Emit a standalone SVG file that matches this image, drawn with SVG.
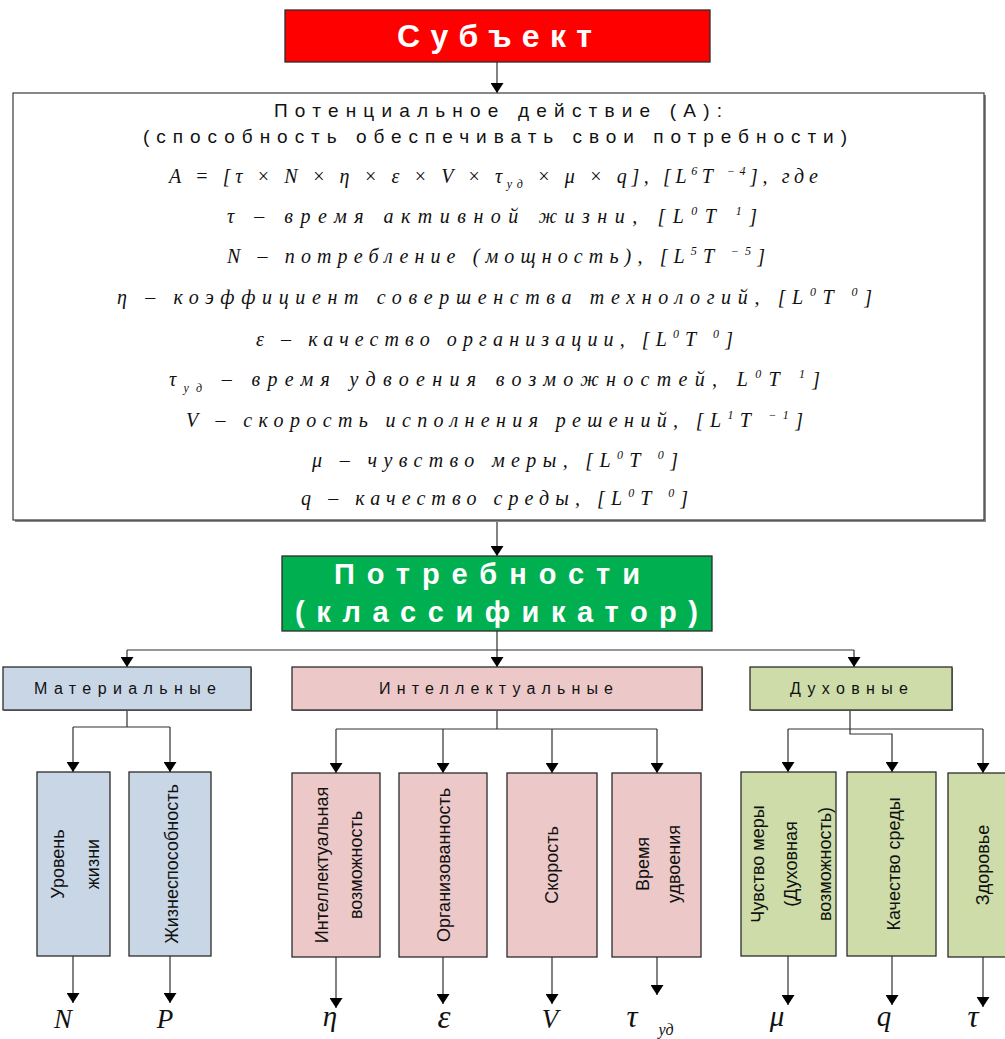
<svg xmlns="http://www.w3.org/2000/svg" width="1005" height="1039" viewBox="0 0 1005 1039">
  <style>
    .box { stroke: #2b2b2b; stroke-width: 1.3; }
    .shadow { fill: #8a8a8a; }
    .conn { fill: none; stroke: #303030; stroke-width: 1.2; }
    .hdr { font-family: "Liberation Sans", Arial, sans-serif; font-weight: bold; fill: #ffffff; }
    .sans { font-family: "Liberation Sans", Arial, sans-serif; fill: #111111; }
    .f { font-family: "Liberation Serif", "Times New Roman", serif; font-style: italic; font-size: 20px; fill: #111111; }
    .s { font-size: 12px; }
    .vt { font-family: "Liberation Sans", Arial, sans-serif; font-size: 18px; fill: #111111; text-anchor: middle; }
    .sym { font-family: "Liberation Serif", "Times New Roman", serif; font-style: italic; fill: #111111; text-anchor: middle; }
    .mat { fill: #c9d6e6; }
    .int { fill: #ecc9c8; }
    .duh { fill: #cddca8; }
  </style>
  <defs>
    <marker id="arr" viewBox="0 0 10 13" refX="10" refY="6.5" markerWidth="10" markerHeight="13" markerUnits="userSpaceOnUse" orient="auto">
      <path d="M0,0 L10,6.5 L0,13 z" fill="#000000"/>
    </marker>
  </defs>
  <rect width="1005" height="1039" fill="#ffffff"/>

  <!-- connectors -->
  <g id="connectors" class="conn">
    <path d="M497,62 V93" marker-end="url(#arr)"/>
    <path d="M497,522 V556" marker-end="url(#arr)"/>
    <path d="M497,631 V650 M127,650 H854"/>
    <path d="M127,650 V667" marker-end="url(#arr)"/>
    <path d="M497,650 V667" marker-end="url(#arr)"/>
    <path d="M854,650 V667" marker-end="url(#arr)"/>
    <!-- material branch -->
    <path d="M127,710 V727 M73,727 H170"/>
    <path d="M73,727 V772" marker-end="url(#arr)"/>
    <path d="M170,727 V772" marker-end="url(#arr)"/>
    <!-- intellectual branch -->
    <path d="M497,710 V729 M336,729 H657"/>
    <path d="M336,729 V773" marker-end="url(#arr)"/>
    <path d="M443,729 V773" marker-end="url(#arr)"/>
    <path d="M552,729 V773" marker-end="url(#arr)"/>
    <path d="M657,729 V773" marker-end="url(#arr)"/>
    <!-- spiritual branch -->
    <path d="M850,710 V734 H892 V772" marker-end="url(#arr)"/>
    <path d="M788,729 H983"/>
    <path d="M788,729 V772" marker-end="url(#arr)"/>
    <path d="M983,729 V773" marker-end="url(#arr)"/>
    <!-- outputs -->
    <path d="M73,956 V1003" marker-end="url(#arr)"/>
    <path d="M170,956 V1003" marker-end="url(#arr)"/>
    <path d="M336,957 V1008" marker-end="url(#arr)"/>
    <path d="M443,957 V1004" marker-end="url(#arr)"/>
    <path d="M552,957 V1004" marker-end="url(#arr)"/>
    <path d="M657,957 V995" marker-end="url(#arr)"/>
    <path d="M788,956 V1005" marker-end="url(#arr)"/>
    <path d="M892,956 V1005" marker-end="url(#arr)"/>
    <path d="M983,957 V1007" marker-end="url(#arr)"/>
  </g>

  <!-- subject -->
  <g id="subject">
    <rect x="285" y="10" width="425" height="52" fill="#ff0000" class="box"/>
    <text class="hdr" x="397" y="47" font-size="32" textLength="195" lengthAdjust="spacing">Субъект</text>
  </g>

  <!-- potential action -->
  <g id="potential">
    <rect x="15" y="95" width="971" height="427" class="shadow"/>
    <rect x="13" y="93" width="971" height="427" fill="#ffffff" stroke="#3a3a3a" stroke-width="1.2"/>
    <text class="sans" x="274" y="117" font-size="19" textLength="448" lengthAdjust="spacing">Потенциальное действие (А):</text>
    <text class="sans" x="143" y="143" font-size="19" textLength="704" lengthAdjust="spacing">(способность обеспечивать свои потребности)</text>
    <text class="f" x="169" y="183" textLength="649" lengthAdjust="spacing">A = [τ × N × η × ε × V × τ<tspan class="s" dy="5">уд</tspan><tspan dy="-5"> × μ × q],   [L</tspan><tspan class="s" dy="-8">6</tspan><tspan dy="8">T </tspan><tspan class="s" dy="-8">−4</tspan><tspan dy="8">],  где</tspan></text>
    <text class="f" x="227" y="223" textLength="530" lengthAdjust="spacing">τ – время активной жизни,  [L<tspan class="s" dy="-8">0</tspan><tspan dy="8">T </tspan><tspan class="s" dy="-8">1</tspan><tspan dy="8">]</tspan></text>
    <text class="f" x="227" y="263" textLength="538" lengthAdjust="spacing">N – потребление (мощность), [L<tspan class="s" dy="-8">5</tspan><tspan dy="8">T </tspan><tspan class="s" dy="-8">−5</tspan><tspan dy="8">]</tspan></text>
    <text class="f" x="117" y="304" textLength="755" lengthAdjust="spacing">η – коэффициент совершенства технологий, [L<tspan class="s" dy="-8">0</tspan><tspan dy="8">T </tspan><tspan class="s" dy="-8">0</tspan><tspan dy="8">]</tspan></text>
    <text class="f" x="256" y="346" textLength="477" lengthAdjust="spacing">ε – качество организации, [L<tspan class="s" dy="-8">0</tspan><tspan dy="8">T </tspan><tspan class="s" dy="-8">0</tspan><tspan dy="8">]</tspan></text>
    <text class="f" x="169" y="386" textLength="651" lengthAdjust="spacing">τ<tspan class="s" dy="6">уд</tspan><tspan dy="-6"> –  время удвоения возможностей,  L</tspan><tspan class="s" dy="-8">0</tspan><tspan dy="8">T </tspan><tspan class="s" dy="-8">1</tspan><tspan dy="8">]</tspan></text>
    <text class="f" x="186" y="427" textLength="617" lengthAdjust="spacing">V – скорость исполнения решений, [L<tspan class="s" dy="-8">1</tspan><tspan dy="8">T </tspan><tspan class="s" dy="-8">−1</tspan><tspan dy="8">]</tspan></text>
    <text class="f" x="312" y="467" textLength="366" lengthAdjust="spacing">μ – чувство меры, [L<tspan class="s" dy="-8">0</tspan><tspan dy="8">T </tspan><tspan class="s" dy="-8">0</tspan><tspan dy="8">]</tspan></text>
    <text class="f" x="301" y="505" textLength="387" lengthAdjust="spacing">q – качество среды, [L<tspan class="s" dy="-8">0</tspan><tspan dy="8">T </tspan><tspan class="s" dy="-8">0</tspan><tspan dy="8">]</tspan></text>
  </g>

  <!-- needs classifier -->
  <g id="needs">
    <rect x="282" y="556" width="430" height="75" fill="#00b050" class="box"/>
    <text class="hdr" x="334" y="584" font-size="29" textLength="306" lengthAdjust="spacing">Потребности</text>
    <text class="hdr" x="295" y="622" font-size="29" textLength="403" lengthAdjust="spacing">(классификатор)</text>
  </g>

  <!-- categories -->
  <g id="material">
    <rect x="4" y="668" width="248" height="43" class="shadow"/>
    <rect x="3" y="667" width="248" height="43" class="box mat"/>
    <text class="sans" x="34" y="694" font-size="16" textLength="182" lengthAdjust="spacing">Материальные</text>
  </g>
  <g id="intellectual">
    <rect x="293" y="668" width="410" height="43" class="shadow"/>
    <rect x="292" y="667" width="410" height="43" class="box int"/>
    <text class="sans" x="379" y="694" font-size="16" textLength="234" lengthAdjust="spacing">Интеллектуальные</text>
  </g>
  <g id="spiritual">
    <rect x="751" y="668" width="202" height="43" class="shadow"/>
    <rect x="750" y="667" width="202" height="43" class="box duh"/>
    <text class="sans" x="790" y="694" font-size="16" textLength="118" lengthAdjust="spacing">Духовные</text>
  </g>

  <!-- material needs -->
  <g id="living-standard">
    <rect x="37" y="772" width="73" height="184" class="box mat"/>
    <g transform="translate(73.5 864) rotate(-90)">
      <text class="vt" x="0" y="-10">Уровень</text>
      <text class="vt" x="0" y="25">жизни</text>
    </g>
  </g>
  <g id="viability">
    <rect x="129" y="772" width="82" height="184" class="box mat"/>
    <text class="vt" transform="translate(170 864) rotate(-90)" x="0" y="8">Жизнеспособность</text>
  </g>

  <!-- intellectual needs -->
  <g id="intellect">
    <rect x="292" y="773" width="88" height="184" class="box int"/>
    <g transform="translate(336 865) rotate(-90)">
      <text class="vt" x="0" y="-8">Интеллектуальная</text>
      <text class="vt" x="0" y="26">возможность</text>
    </g>
  </g>
  <g id="organization">
    <rect x="399" y="773" width="88" height="184" class="box int"/>
    <text class="vt" transform="translate(443 865) rotate(-90)" x="0" y="7">Организованность</text>
  </g>
  <g id="speed">
    <rect x="507" y="773" width="90" height="184" class="box int"/>
    <text class="vt" transform="translate(552 865) rotate(-90)" x="0" y="6">Скорость</text>
  </g>
  <g id="doubling">
    <rect x="612" y="773" width="89" height="184" class="box int"/>
    <g transform="translate(656.5 864) rotate(-90)">
      <text class="vt" x="0" y="-8">Время</text>
      <text class="vt" x="0" y="23">удвоения</text>
    </g>
  </g>

  <!-- spiritual needs -->
  <g id="measure">
    <rect x="741" y="772" width="95" height="184" class="box duh"/>
    <g transform="translate(788.5 864) rotate(-90)">
      <text class="vt" x="0" y="-25">Чувство меры</text>
      <text class="vt" x="0" y="8">(Духовная</text>
      <text class="vt" x="0" y="42">возможность)</text>
    </g>
  </g>
  <g id="environment">
    <rect x="847" y="772" width="89" height="184" class="box duh"/>
    <text class="vt" transform="translate(891.5 864) rotate(-90)" x="0" y="8">Качество среды</text>
  </g>
  <g id="health">
    <rect x="948" y="773" width="72" height="184" class="box duh"/>
    <text class="vt" transform="translate(983 865) rotate(-90)" x="0" y="6">Здоровье</text>
  </g>

  <!-- output symbols -->
  <g id="symbols">
    <text class="sym" x="63" y="1028" font-size="27">N</text>
    <text class="sym" x="165" y="1028" font-size="27">P</text>
    <text class="sym" x="330" y="1026" font-size="29">η</text>
    <text class="sym" x="444" y="1028" font-size="33">ε</text>
    <text class="sym" x="550" y="1028" font-size="27">V</text>
    <text class="sym" x="632" y="1027" font-size="31">τ</text>
    <text class="sym" x="666" y="1035" font-size="16">уд</text>
    <text class="sym" x="777" y="1026" font-size="29">μ</text>
    <text class="sym" x="884" y="1026" font-size="29">q</text>
    <text class="sym" x="973" y="1027" font-size="31">τ</text>
  </g>
</svg>
